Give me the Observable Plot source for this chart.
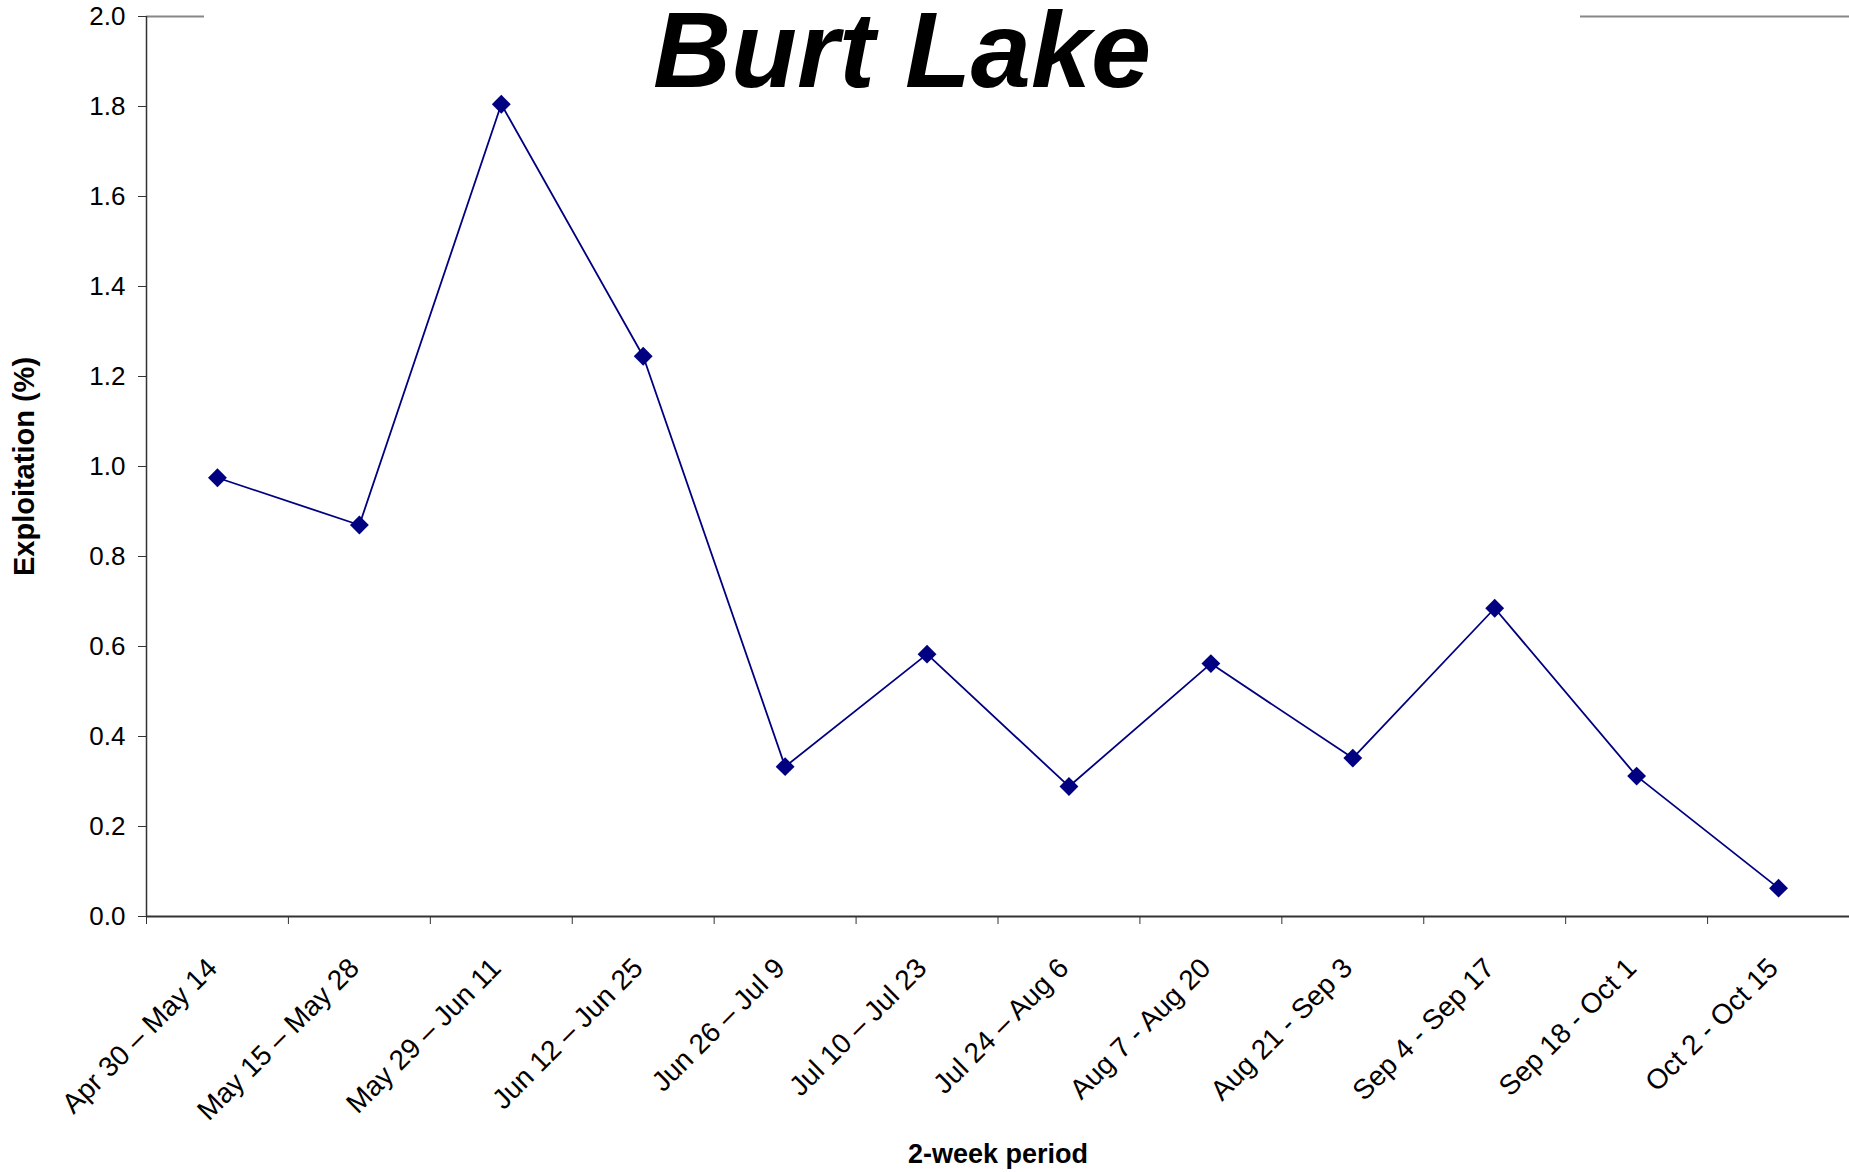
<!DOCTYPE html>
<html>
<head>
<meta charset="utf-8">
<script src="https://cdn.jsdelivr.net/npm/d3@7"></script>
<script src="https://cdn.jsdelivr.net/npm/@observablehq/plot@0.6"></script>
<style>
  html, body { margin: 0; padding: 0; background: #fff; }
  #wrap { position: relative; width: 1849px; height: 1172px; font-family: "Liberation Sans", Arial, sans-serif; }
  #cover { position: absolute; top: 8px; left: 204px; width: 1376px; height: 16px; background: #fff; }
  #title {
    position: absolute; top: -4px; left: 214px; width: 1376px; height: 120px;
    text-align: center;
    font: italic bold 108px/108px "Liberation Sans", Arial, sans-serif;
    color: #000; white-space: nowrap; pointer-events: none;
  }
</style>
</head>
<body>
<div id="wrap">
  <div id="chart"></div>
  <div id="cover"></div>
  <div id="title">Burt Lake</div>
</div>
<script>
const periods = [
  "Apr 30 \u2013 May 14", "May 15 \u2013 May 28", "May 29 \u2013 Jun 11", "Jun 12 \u2013 Jun 25",
  "Jun 26 \u2013 Jul 9", "Jul 10 \u2013 Jul 23", "Jul 24 \u2013 Aug 6", "Aug 7 - Aug 20",
  "Aug 21 - Sep 3", "Sep 4 - Sep 17", "Sep 18 - Oct 1", "Oct 2 - Oct 15"
];
const exploitation = [0.975, 0.87, 1.805, 1.245, 0.333, 0.583, 0.289, 0.562, 0.352, 0.685, 0.312, 0.063];
const yTicks = [0, 0.2, 0.4, 0.6, 0.8, 1.0, 1.2, 1.4, 1.6, 1.8, 2.0];
const yLabel = "Exploitation (%)";
const xLabel = "2-week period";

const rows = periods.map((p, i) => ({i, pos: i + 0.5, period: p, value: exploitation[i]}));
const boundaries = d3.range(periods.length + 1);

const chart = Plot.plot({
  width: 1849,
  height: 1172,
  marginLeft: 146,
  marginRight: 0,
  marginTop: 16,
  marginBottom: 256,
  style: {fontFamily: '"Liberation Sans", Arial, sans-serif', background: "#fff", color: "#000"},
  x: {type: "linear", domain: [0, periods.length]},
  y: {domain: [0, 2]},
  marks: [
    Plot.ruleY([2], {stroke: "#888", strokeWidth: 2}),
    Plot.axisY({ticks: yTicks, tickSize: 8, tickPadding: 13, tickFormat: d3.format(".1f"), fontSize: 26, label: null, stroke: "#333", color: "#000"}),
    Plot.axisX({ticks: boundaries, tickSize: 8, tickFormat: () => "", label: null, stroke: "#333"}),
    Plot.ruleX([0], {stroke: "#333", strokeWidth: 1.5}),
    Plot.ruleY([0], {stroke: "#333", strokeWidth: 2}),
    Plot.text(rows, {x: "pos", y: () => 0, text: "period", rotate: -45, textAnchor: "end", lineAnchor: "middle", dx: -5, dy: 47, fontSize: 28, fill: "#000"}),
    Plot.line(rows, {x: "pos", y: "value", stroke: "#000080", strokeWidth: 1.8}),
    Plot.dot(rows, {x: "pos", y: "value", symbol: "diamond2", r: 8.5, fill: "#000080", stroke: "none"}),
    Plot.text([yLabel], {frameAnchor: "left", textAnchor: "middle", lineAnchor: "middle", rotate: -90, dx: -122, fontSize: 29, fontWeight: "bold", fill: "#000"}),
    Plot.text([xLabel], {frameAnchor: "bottom", lineAnchor: "middle", dy: 238, fontSize: 27, fontWeight: "bold", fill: "#000"})
  ]
});
document.getElementById("chart").appendChild(chart);
</script>
</body>
</html>
